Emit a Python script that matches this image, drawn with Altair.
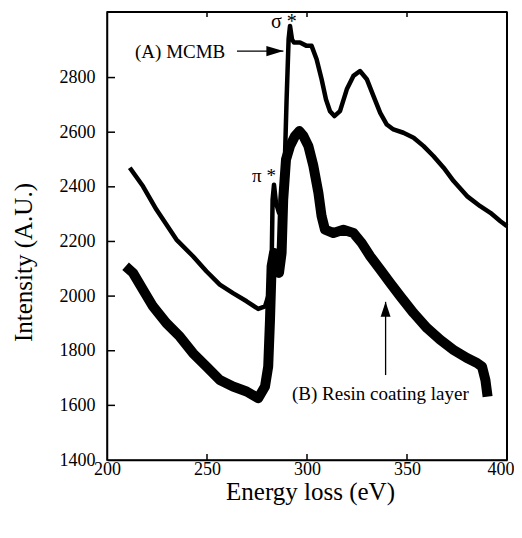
import altair as alt
import pandas as pd

# ---- data ----
a_energy = [211.4, 218, 224.7, 234.7, 243, 249.7, 256.4, 263, 269.8, 275.6, 279, 281.1, 282.3, 282.8,
            283.5, 284.5, 286, 287.8, 289, 289.8, 290.8, 291.5, 292.5, 293.5, 296.5, 299.8, 302.3, 304.8,
            307.3, 309.5, 311.5, 313.7, 316.5, 319.9, 323.2, 326.5, 329.9, 333.2, 336.6, 339.9, 343.2,
            348.2, 353.3, 358.3, 363.3, 368.3, 373.3, 380, 386.6, 391.7, 396.7, 400]
a_intensity = [2470, 2402, 2317, 2207, 2146, 2091, 2042, 2011, 1981, 1953, 1962, 2011, 2109, 2353,
               2408, 2341, 2305, 2353, 2512, 2720, 2940, 2989, 2940, 2928, 2928, 2916, 2916, 2867,
               2794, 2720, 2677, 2659, 2677, 2757, 2806, 2824, 2794, 2733, 2671, 2628, 2610,
               2598, 2580, 2549, 2512, 2470, 2421, 2366, 2329, 2305, 2274, 2256]

b_energy = [209.3, 213, 218, 223, 229.7, 236.4, 243, 249.7, 256.4, 263, 269.8, 275.6, 279, 280.6,
            281.5, 282.3, 283.5, 284.8, 286, 287.3, 288.1, 289.5, 291.5, 294, 296.2, 298.2, 300.7,
            303.2, 305.7, 307.3, 309, 313.2, 318.2, 323.2, 327.3, 331.6, 336.6, 341.6, 346.6, 353.3,
            360, 366.6, 373.3, 380, 385, 387.5, 389.2, 390.3]
b_intensity = [2109, 2085, 2023, 1962, 1901, 1852, 1791, 1742, 1693, 1669, 1651, 1626, 1669, 1742,
               1913, 2109, 2158, 2109, 2085, 2158, 2353, 2500, 2549, 2586, 2604, 2586, 2549,
               2476, 2378, 2292, 2243, 2231, 2243, 2231, 2195, 2146, 2097, 2048, 2000, 1938,
               1883, 1840, 1803, 1773, 1755, 1742, 1693, 1632]

x_ticks = [200, 250, 300, 350, 400]
y_ticks = [1400, 1600, 1800, 2000, 2200, 2400, 2600, 2800]

label_a = "(A) MCMB"
label_a_pos = (214, 2893)
arrow_a = (265, 288.2, 2897)          # x start, x tip, y
label_b = "(B) Resin coating layer"
label_b_pos = (292.5, 1640)
arrow_b = (339.3, 1711, 1979)         # x, y start, y tip
sigma_label = "σ *"
sigma_pos = (288.4, 3003)
pi_label = "π *"
pi_pos = (278.5, 2440)

FONT = "Liberation Serif"
W, H = 400, 448

xscale = alt.Scale(domain=[200, 400], nice=False, zero=False)
yscale = alt.Scale(domain=[1400, 3040], nice=False, zero=False)
xaxis = alt.Axis(values=x_ticks, format="d", title="Energy loss (eV)", grid=False, ticks=False,
                 domain=True, domainColor="black", domainWidth=1.5,
                 labelFont=FONT, labelFontSize=18, labelColor="black", labelPadding=0,
                 labelAlign={"condition": {"test": "datum.value == 400", "value": "right"}, "value": "center"},
                 labelOffset={"condition": {"test": "datum.value == 400", "value": 7}, "value": 0},
                 titleFont=FONT, titleFontSize=25, titleFontWeight="normal", titleColor="black",
                 titleX=203, titleY=39, titleBaseline="alphabetic", labelFlush=False)
yaxis = alt.Axis(values=y_ticks, format="d", title="Intensity (A.U.)", grid=False, ticks=False,
                 domain=True, domainColor="black", domainWidth=1.5,
                 labelFont=FONT, labelFontSize=18, labelColor="black", labelPadding=12,
                 titleFont=FONT, titleFontSize=25, titleFontWeight="normal", titleColor="black",
                 titleX=-76, titleY=250, titleBaseline="alphabetic", labelFlush=False)


def X(f):
    return alt.X(f, type="quantitative", scale=xscale, axis=xaxis)


def Y(f):
    return alt.Y(f, type="quantitative", scale=yscale, axis=yaxis)


df_a = pd.DataFrame({"x": a_energy, "y": a_intensity})
df_b = pd.DataFrame({"x": b_energy, "y": b_intensity})

line_a = alt.Chart(df_a).mark_line(color="black", strokeWidth=4.5, strokeJoin="round").encode(x=X("x"), y=Y("y"))
line_b = alt.Chart(df_b).mark_line(color="black", strokeWidth=10, strokeJoin="round").encode(x=X("x"), y=Y("y"))

yt = pd.DataFrame({"v": y_ticks[1:]})
xt = pd.DataFrame({"v": x_ticks[1:-1]})
left_ticks = alt.Chart(yt).mark_rule(color="black", strokeWidth=1.5).encode(
    y=Y("v"), x=alt.value(0), x2=alt.value(8))
bottom_ticks = alt.Chart(xt).mark_rule(color="black", strokeWidth=1.5).encode(
    x=X("v"), y=alt.value(H), y2=alt.value(H - 6))
top_ticks = alt.Chart(xt).mark_rule(color="black", strokeWidth=1.5).encode(
    x=X("v"), y=alt.value(0), y2=alt.value(5))

# top and right sides of the plot frame, drawn at the domain ends through the scales
frame_df = pd.DataFrame({"x0": [200], "x1": [400], "y0": [1400], "y1": [3040]})
frame_top = alt.Chart(frame_df).mark_rule(color="black", strokeWidth=2).encode(
    x=X("x0"), x2="x1", y=Y("y1"))
frame_right = alt.Chart(frame_df).mark_rule(color="black", strokeWidth=2).encode(
    x=X("x1"), y=Y("y0"), y2="y1")


def text_layer(label, pos, align, size):
    d = pd.DataFrame({"x": [pos[0]], "y": [pos[1]], "t": [label]})
    return alt.Chart(d).mark_text(font=FONT, fontSize=size, align=align, baseline="middle",
                                  color="black").encode(x=X("x"), y=Y("y"), text="t:N")


t_a = text_layer(label_a, label_a_pos, "left", 19)
t_b = text_layer(label_b, label_b_pos, "left", 19)
t_s = text_layer(sigma_label, sigma_pos, "center", 20)
t_p = text_layer(pi_label, pi_pos, "center", 19)

arr_a_df = pd.DataFrame({"x": [arrow_a[0]], "x2": [arrow_a[1]], "y": [arrow_a[2]]})
arr_a_line = alt.Chart(arr_a_df).mark_rule(color="black", strokeWidth=1.3).encode(
    x=X("x"), x2="x2", y=Y("y"))
arr_a_head = alt.Chart(arr_a_df).mark_point(shape="M0,0L-1,-0.3L-1,0.3Z", filled=True, size=1156,
                                            color="black", opacity=1, strokeWidth=0).encode(
    x=X("x2"), y=Y("y"))

arr_b_df = pd.DataFrame({"x": [arrow_b[0]], "y": [arrow_b[1]], "y2": [arrow_b[2]]})
arr_b_line = alt.Chart(arr_b_df).mark_rule(color="black", strokeWidth=1.3).encode(
    x=X("x"), y=Y("y"), y2="y2")
arr_b_head = alt.Chart(arr_b_df).mark_point(shape="M0,0L-0.33,1L0.33,1Z", filled=True, size=900,
                                            color="black", opacity=1, strokeWidth=0).encode(
    x=X("x"), y=Y("y2"))

chart = alt.layer(
    line_a, line_b, left_ticks, bottom_ticks, top_ticks, frame_top, frame_right,
    t_a, t_b, t_s, t_p, arr_a_line, arr_a_head, arr_b_line, arr_b_head
).properties(
    width=W, height=H,
    background="white",
    autosize=alt.AutoSizeParams(type="none"),
    padding={"left": 99, "top": 4, "right": 7, "bottom": 50},
).configure_view(stroke="black", strokeWidth=1.5)

chart.save("out.html", embed_options={"renderer": "svg", "actions": False})
